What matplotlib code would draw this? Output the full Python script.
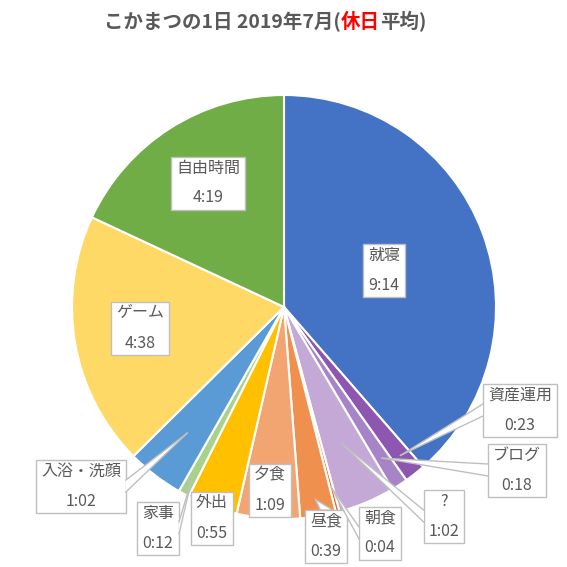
import numpy as np
import matplotlib
matplotlib.use('Agg')
from matplotlib import pyplot as plt
from matplotlib.patches import Polygon, Rectangle

plt.rcParams['font.family'] = ['Noto Sans CJK JP', 'DejaVu Sans']

#data (minutes)
labels = ['就寝', '資産運用', 'ブログ', '?', '朝食', '昼食', '夕食', '外出', '家事', '入浴・洗顔', 'ゲーム', '自由時間']
times = ['9:14', '0:23', '0:18', '1:02', '0:04', '0:39', '1:09', '0:55', '0:12', '1:02', '4:38', '4:19']
minutes = [554, 23, 18, 62, 4, 39, 69, 55, 12, 62, 278, 259]
colors = ['#4472C4', '#8C56B1', '#A783C7', '#C4A9D7', '#E8702A', '#F0904F',
          '#F2A571', '#FFC000', '#A9D18E', '#5B9BD5', '#FFD966', '#70AD47']

#label box centers in pixels (x, y from top) and leader tips (None = no leader)
box_pos = [(384, 270), (520, 410), (517, 470), (444, 516), (380, 533), (326, 536),
           (270, 490), (212, 518), (158, 528), (81, 486), (140, 328), (208, 183)]
tip_r = [None, 0.89, 0.85, 0.70, 0.88, 0.92, None, None, 0.92, 0.75, None, None]

W, H = 567, 567
cx, cy, R = 284, 307, 212

fig = plt.figure(figsize=(W/100, H/100), dpi=100)
ax = fig.add_axes([(cx-R)/W, (H-cy-R)/H, 2*R/W, 2*R/H])
wedges, _ = ax.pie(minutes, colors=colors, startangle=90, counterclock=False, radius=1,
                   wedgeprops=dict(edgecolor='white', linewidth=1.5))
ax.set_xlim(-1, 1)
ax.set_ylim(-1, 1)
ax.set_aspect('equal')
ax.axis('off')

# overlay axes in pixel coords for labels
lx = fig.add_axes([0, 0, 1, 1])
lx.set_xlim(0, W)
lx.set_ylim(H, 0)
lx.axis('off')

gray = '#595959'
for i, w in enumerate(wedges):
    bx, by = box_pos[i]
    txt = f'{labels[i]}\n{times[i]}'
    t = lx.text(bx, by, txt, ha='center', va='center', fontsize=11.5, color=gray,
                linespacing=2.0, zorder=5)
    fig.canvas.draw()
    bb = t.get_window_extent().transformed(lx.transData.inverted())
    x0, x1 = min(bb.x0, bb.x1) - 5, max(bb.x0, bb.x1) + 5
    y0, y1 = min(bb.y0, bb.y1) - 3, max(bb.y0, bb.y1) + 3
    lx.add_patch(Rectangle((x0, y0), x1 - x0, y1 - y0, facecolor='white',
                           edgecolor='#BFBFBF', linewidth=1, zorder=3))
    if tip_r[i] is not None:
        mid = np.deg2rad((w.theta1 + w.theta2) / 2)
        tx = cx + tip_r[i] * R * np.cos(mid)
        ty = cy - tip_r[i] * R * np.sin(mid)
        # base of callout wedge on the box edge facing the tip
        if tx < x0:
            base = [(x0, by - 6), (x0, by + 6)]
        elif tx > x1:
            base = [(x1, by - 6), (x1, by + 6)]
        elif ty < y0:
            base = [(bx - 6, y0), (bx + 6, y0)]
        else:
            base = [(bx - 6, y1), (bx + 6, y1)]
        lx.add_patch(Polygon([base[0], (tx, ty), base[1]], closed=True,
                             facecolor='white', edgecolor='none', zorder=4))
        for b in base:
            lx.plot([b[0], tx], [b[1], ty], color='#BFBFBF', linewidth=1, zorder=4)

#title
t1 = fig.text(104/W, 1 - 22/H, 'こかまつの1日 2019年7月(', fontsize=14, fontweight='bold',
              color=gray, ha='left', va='center')
t2 = lx.annotate('休日', xy=(1, 0), xycoords=t1, va='bottom', ha='left',
                 fontsize=14, fontweight='bold', color='red')
t3 = lx.annotate('平均)', xy=(1, 0), xycoords=t2, va='bottom', ha='left',
                 fontsize=14, fontweight='bold', color=gray)

plt.savefig('out.png', dpi=100)
